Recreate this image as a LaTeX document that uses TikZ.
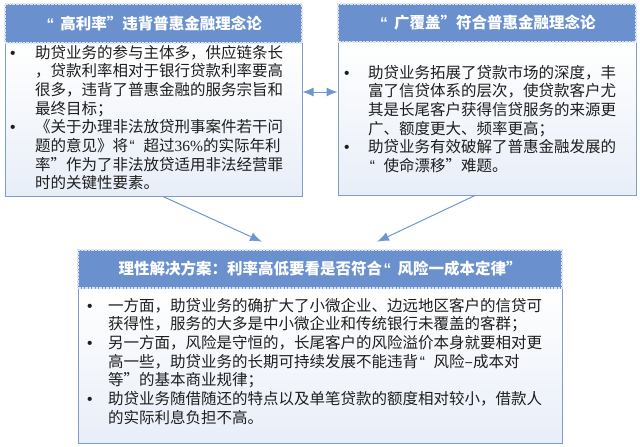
\documentclass[tikz,border=0pt]{standalone}
\usepackage{fontspec}
\setmainfont{Noto Sans CJK SC}
\newfontfamily\latinf{Liberation Sans}
\newfontfamily\serif{Liberation Serif}
\usetikzlibrary{arrows.meta}
\definecolor{hblue}{RGB}{106,145,206}
\definecolor{edge}{RGB}{128,156,200}
\definecolor{pale}{RGB}{232,238,248}
\definecolor{linkc}{RGB}{112,150,210}
\definecolor{ink}{RGB}{30,30,30}
\newcommand\bodyfont{\fontsize{15.5}{18.6}\selectfont}
\newcommand\headfont{\fontsize{15.5}{18.6}\selectfont\bfseries}
\newcommand\bul[1]{\makebox[#1][l]{\latinf •}}
\newcommand\oq{\makebox[1em][l]{\latinf\hspace{0.1em}“}}
\tikzset{
  head/.style={fill=hblue, draw=white!75!hblue, densely dotted, line width=2.5pt,
    text=white, font=\headfont, inner sep=0pt},
  panel/.style={draw=edge, line width=1pt, top color=white, bottom color=pale, inner sep=0pt},
  btext/.style={anchor=base west, inner sep=0pt, text=ink, font=\bodyfont},
  link/.style={draw=linkc, line width=1pt, -{Latex[length=12pt,width=9pt]}}
}
\begin{document}
\begin{tikzpicture}[x=1pt,y=-1pt]
\useasboundingbox (0,0) rectangle (640,447);
% panels
\node[panel, minimum width=297pt, minimum height=154pt] (lbody) at (153.5,119) {};
\node[panel, minimum width=298pt, minimum height=154pt] (rbody) at (487,118) {};
\node[panel, minimum width=484pt, minimum height=155pt] (bbody) at (320,366) {};
% text
\node[btext] (ltxt) at (10,58) {\begin{tabular}[t]{@{}l@{}l@{}}
\bul{25pt} & 助贷业务的参与主体多，供应链条长\\
 & ，贷款利率相对于银行贷款利率要高\\
 & 很多，违背了普惠金融的服务宗旨和\\
 & 最终目标；\\
\bul{25pt} & 《关于办理非法放贷刑事案件若干问\\
 & 题的意见》将\oq 超过{\serif 36\%}的实际年利\\
 & 率”作为了非法放贷适用非法经营罪\\
 & 时的关键性要素。
\end{tabular}};
\node[btext] (rtxt) at (344,78) {\begin{tabular}[t]{@{}l@{}l@{}}
\bul{24pt} & 助贷业务拓展了贷款市场的深度，丰\\
 & 富了信贷体系的层次，使贷款客户尤\\
 & 其是长尾客户获得信贷服务的来源更\\
 & 广、额度更大、频率更高；\\
\bul{24pt} & 助贷业务有效破解了普惠金融发展的\\
 & \oq 使命漂移”难题。
\end{tabular}};
\node[btext] (btxt) at (87,311) {\begin{tabular}[t]{@{}l@{}l@{}}
\bul{21pt} & 一方面，助贷业务的确扩大了小微企业、边远地区客户的信贷可\\
 & 获得性，服务的大多是中小微企业和传统银行未覆盖的客群；\\
\bul{21pt} & 另一方面，风险是守恒的，长尾客户的风险溢价本身就要相对更\\
 & 高一些，助贷业务的长期可持续发展不能违背\oq 风险–成本对\\
 & 等”的基本商业规律；\\
\bul{21pt} & 助贷业务随借随还的特点以及单笔贷款的额度相对较小，借款人\\
 & 的实际利息负担不高。
\end{tabular}};
% headers
\node[head, minimum width=297pt, minimum height=39pt] (lhead) at (153.5,23.5) {\oq 高利率”违背普惠金融理念论};
\node[head, minimum width=298pt, minimum height=38pt] (rhead) at (487,23) {\oq 广覆盖”符合普惠金融理念论};
\node[head, minimum width=484pt, minimum height=38pt] (bhead) at (320,269) {理性解决方案：利率高低要看是否符合\oq 风险一成本定律”};
% arrows
\draw[link, {Latex[length=11pt,width=9pt]}-{Latex[length=11pt,width=9pt]}]
  ([yshift=27pt]lbody.east) -- ([yshift=27pt]lbody.east -| rbody.west);
\draw[link] ([xshift=9.5pt]lbody.south) -- ([xshift=-58pt,yshift=7pt]bhead.north);
\draw[link] ([xshift=-12pt]rbody.south) -- ([xshift=57pt,yshift=7pt]bhead.north);
\end{tikzpicture}
\end{document}
